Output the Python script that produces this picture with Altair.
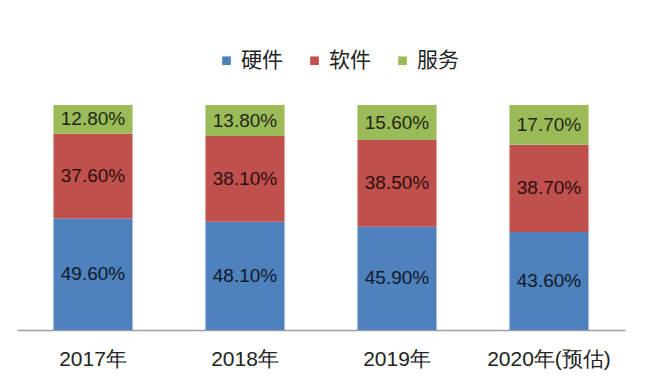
import altair as alt
import pandas as pd

years = ["2017年", "2018年", "2019年", "2020年(预估)"]
series = ["硬件", "软件", "服务"]
hardware = [49.6, 48.1, 45.9, 43.6]
software = [37.6, 38.1, 38.5, 38.7]
services = [12.8, 13.8, 15.6, 17.7]
colors = ["#4f81bd", "#c0504d", "#9bbb59"]

rows = []
for i, y in enumerate(years):
    for k, (name, vals) in enumerate(zip(series, [hardware, software, services])):
        rows.append({"year": y, "series": name, "value": vals[i], "order": k,
                     "label": f"{vals[i]:.2f}%"})
df = pd.DataFrame(rows)

x = alt.X("year:N", sort=years, title=None,
          scale=alt.Scale(paddingInner=0.48, paddingOuter=0.24),
          axis=alt.Axis(labelAngle=0, labelFontSize=21, labelColor="#222",
                        labelFont="Liberation Sans", labelPadding=18,
                        ticks=False, domainColor="#a0a0a0", domainWidth=1.5))
y = alt.Y("value:Q", stack="zero", title=None,
          scale=alt.Scale(domain=[0, 100], nice=False), axis=None)

bars = alt.Chart(df).mark_bar().encode(
    x=x, y=y,
    color=alt.Color("series:N", sort=series,
                    scale=alt.Scale(domain=series, range=colors),
                    legend=alt.Legend(title=None, orient="none", direction="horizontal",
                                      legendX=199, legendY=-55,
                                      symbolType="square", symbolSize=75,
                                      symbolStrokeWidth=0, symbolOpacity=1,
                                      labelFontSize=21, labelFont="Noto Sans CJK SC",
                                      labelColor="#222", labelOffset=4,
                                      columnPadding=21)),
    order=alt.Order("order:Q"),
)

text = alt.Chart(df).transform_stack(
    stack="value", groupby=["year"], as_=["v0", "v1"], sort=[alt.SortField("order")]
).transform_calculate(mid="(datum.v0 + datum.v1) / 2").mark_text(
    fontSize=19, font="Liberation Sans", color="black", opacity=0.8
).encode(
    x=alt.X("year:N", sort=years),
    y=alt.Y("mid:Q"),
    text="label:N",
)

chart = alt.layer(bars, text).properties(
    width=608, height=225,
    background="white",
    autosize=alt.AutoSizeParams(type="none"),
    padding={"left": 9, "top": 97, "right": 15, "bottom": 45},
).configure_view(stroke=None)

chart.save("out.html", embed_options={"renderer": "svg", "actions": False})
